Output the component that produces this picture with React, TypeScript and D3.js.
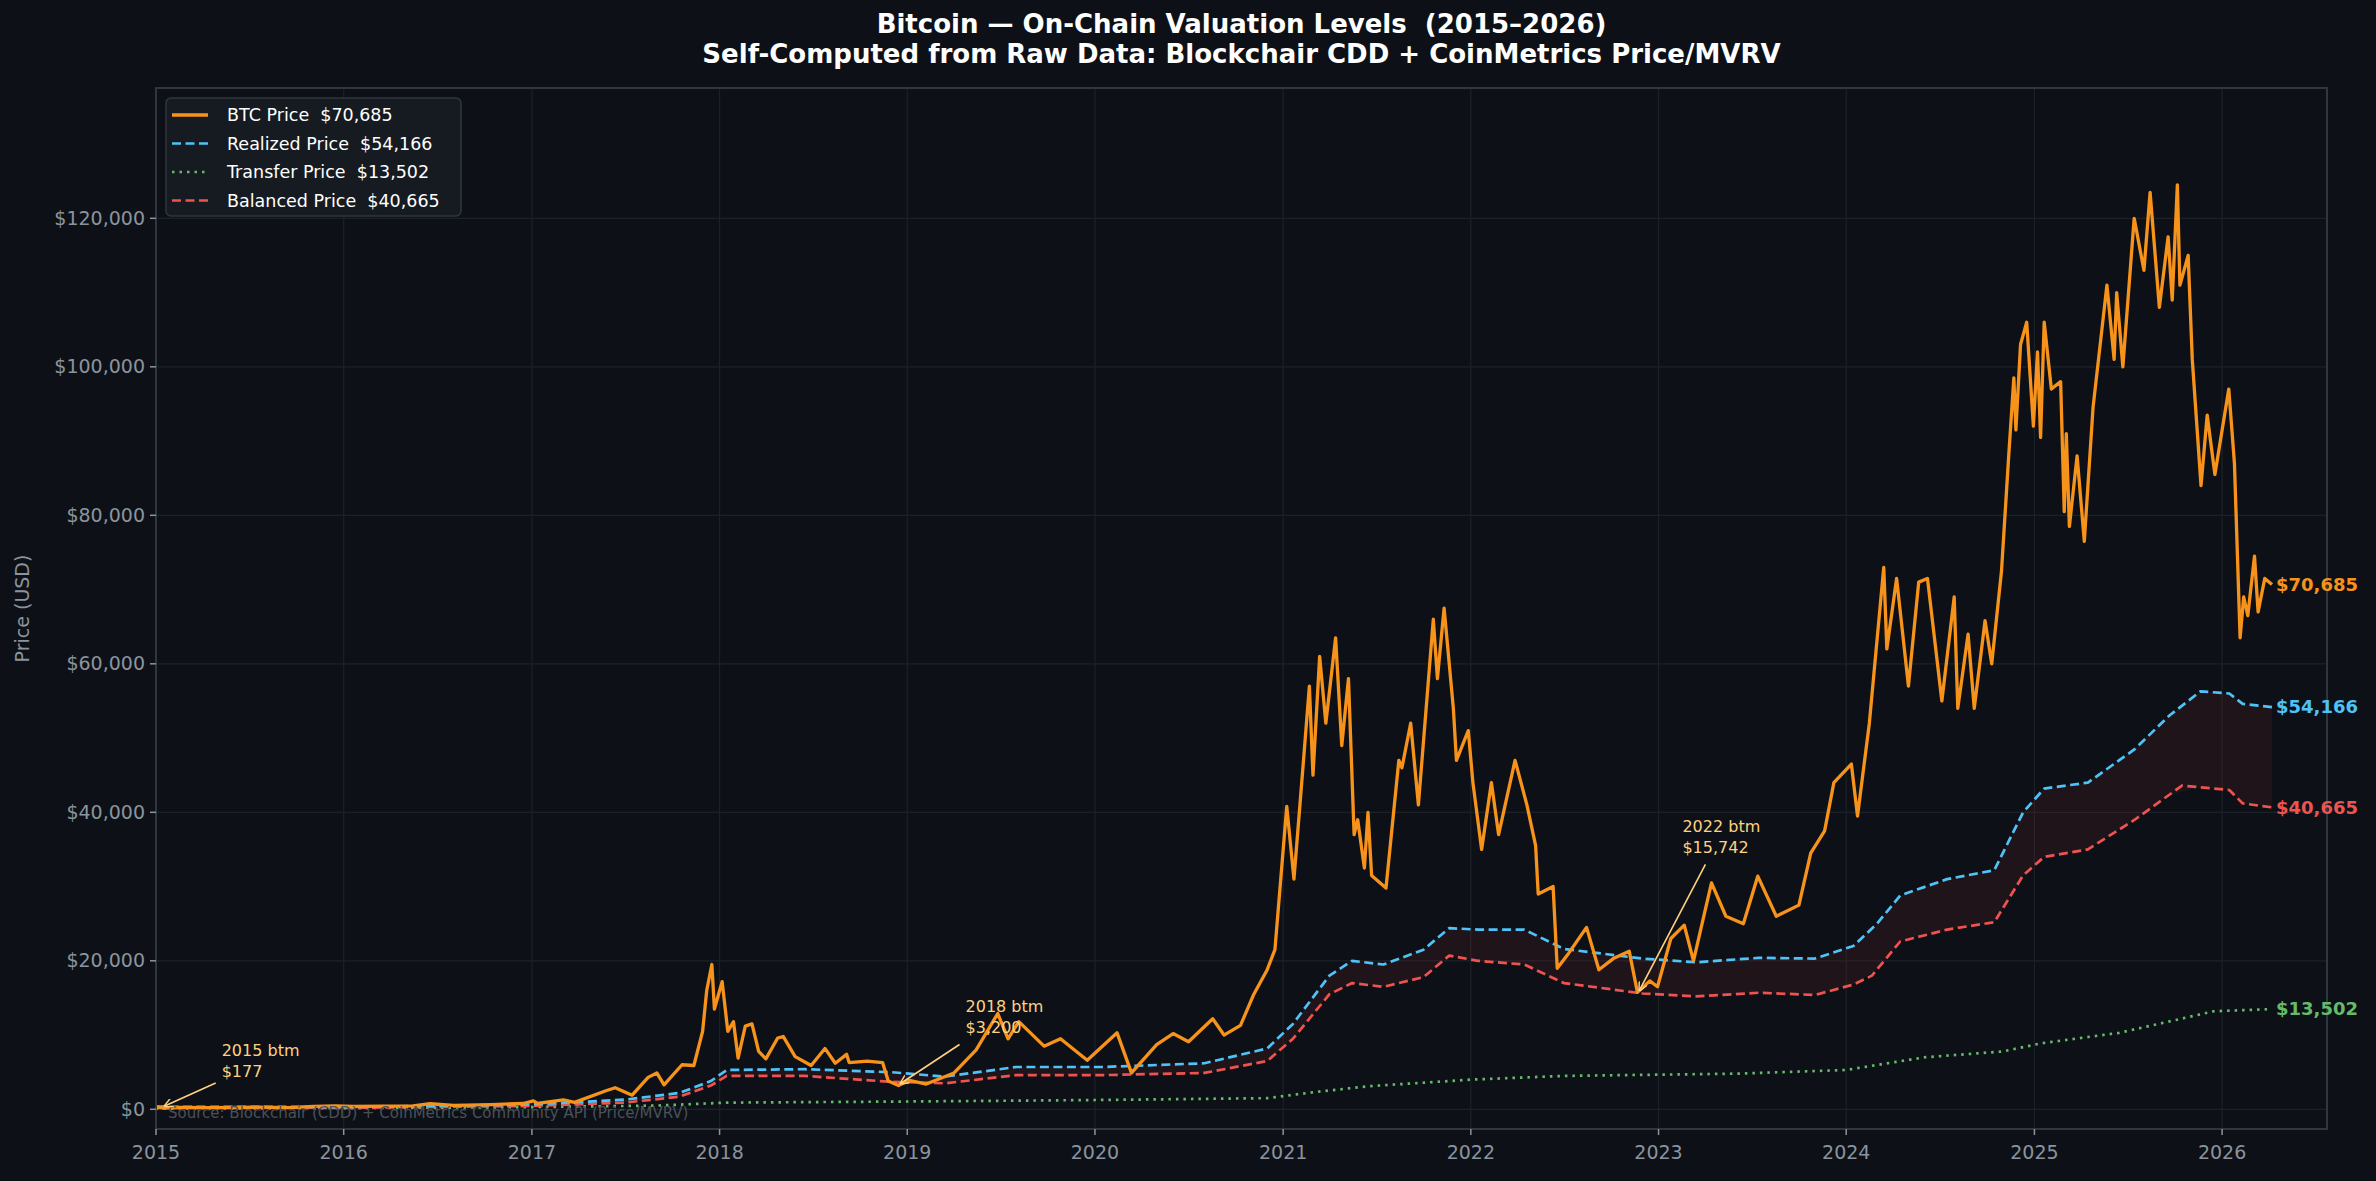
import React from 'react';
import * as d3 from 'd3';

// BTC price (approx.) — [date, USD]
const btcPrice: [string, number][] = [
  ['2015-01-01', 320], ['2015-01-14', 177], ['2015-02-15', 240], ['2015-04-15', 225], ['2015-06-15', 245],
  ['2015-07-15', 290], ['2015-09-15', 230], ['2015-11-04', 400], ['2015-12-15', 450], ['2016-01-20', 380],
  ['2016-03-15', 415], ['2016-05-15', 455], ['2016-06-17', 750], ['2016-08-02', 540], ['2016-10-15', 640],
  ['2016-12-15', 780], ['2017-01-04', 1130], ['2017-01-12', 800], ['2017-03-03', 1280], ['2017-03-25', 930],
  ['2017-05-25', 2500], ['2017-06-12', 2900], ['2017-07-15', 1900], ['2017-08-15', 4300], ['2017-09-01', 4900],
  ['2017-09-15', 3300], ['2017-10-20', 6000], ['2017-11-12', 5900], ['2017-11-29', 10500], ['2017-12-07', 16000],
  ['2017-12-17', 19500], ['2017-12-22', 13500], ['2018-01-06', 17200], ['2018-01-17', 10500], ['2018-01-28', 11800],
  ['2018-02-06', 6900], ['2018-02-20', 11200], ['2018-03-05', 11500], ['2018-03-18', 7800], ['2018-04-01', 6800],
  ['2018-04-24', 9600], ['2018-05-05', 9800], ['2018-05-28', 7100], ['2018-06-28', 5900], ['2018-07-25', 8200],
  ['2018-08-14', 6200], ['2018-09-05', 7400], ['2018-09-10', 6300], ['2018-10-15', 6500], ['2018-11-14', 6300],
  ['2018-11-25', 3800], ['2018-12-15', 3200], ['2019-01-05', 3900], ['2019-02-07', 3400], ['2019-04-02', 4900],
  ['2019-05-15', 8000], ['2019-06-26', 12900], ['2019-07-16', 9500], ['2019-08-06', 11800], ['2019-09-24', 8500],
  ['2019-10-26', 9500], ['2019-12-17', 6600], ['2020-02-13', 10300], ['2020-03-12', 4900], ['2020-04-30', 8700],
  ['2020-06-01', 10200], ['2020-07-01', 9100], ['2020-08-17', 12200], ['2020-09-08', 10000], ['2020-10-10', 11300],
  ['2020-11-05', 15500], ['2020-12-01', 18800], ['2020-12-16', 21500], ['2021-01-08', 40800], ['2021-01-22', 31000],
  ['2021-02-09', 46500], ['2021-02-21', 57000], ['2021-02-28', 45000], ['2021-03-13', 61000], ['2021-03-25', 52000],
  ['2021-04-13', 63500], ['2021-04-25', 49000], ['2021-05-08', 58000], ['2021-05-19', 37000], ['2021-05-26', 39000],
  ['2021-06-08', 32500], ['2021-06-15', 40000], ['2021-06-22', 31500], ['2021-07-20', 29800], ['2021-08-14', 47000],
  ['2021-08-20', 46000], ['2021-09-06', 52000], ['2021-09-21', 41000], ['2021-10-20', 66000], ['2021-10-28', 58000],
  ['2021-11-10', 67500], ['2021-11-28', 54000], ['2021-12-04', 47000], ['2021-12-27', 51000], ['2022-01-05', 44000],
  ['2022-01-22', 35000], ['2022-02-10', 44000], ['2022-02-24', 37000], ['2022-03-28', 47000], ['2022-04-20', 41000],
  ['2022-05-07', 35500], ['2022-05-12', 29000], ['2022-06-10', 30000], ['2022-06-18', 19000], ['2022-07-10', 21000],
  ['2022-08-14', 24500], ['2022-09-07', 18800], ['2022-10-05', 20300], ['2022-11-05', 21300], ['2022-11-21', 15742],
  ['2022-12-15', 17300], ['2022-12-30', 16500], ['2023-01-25', 23000], ['2023-02-20', 24800], ['2023-03-10', 20000],
  ['2023-04-14', 30500], ['2023-05-12', 26000], ['2023-06-15', 25000], ['2023-07-13', 31400], ['2023-08-18', 26000],
  ['2023-10-01', 27500], ['2023-10-24', 34500], ['2023-11-20', 37500], ['2023-12-08', 44000], ['2024-01-11', 46500],
  ['2024-01-23', 39500], ['2024-02-15', 52000], ['2024-03-14', 73000], ['2024-03-20', 62000], ['2024-04-08', 71500],
  ['2024-05-01', 57000], ['2024-05-21', 71000], ['2024-06-07', 71500], ['2024-07-05', 55000], ['2024-07-29', 69000],
  ['2024-08-05', 54000], ['2024-08-25', 64000], ['2024-09-06', 54000], ['2024-09-27', 65800], ['2024-10-10', 60000],
  ['2024-10-29', 72500], ['2024-11-12', 88000], ['2024-11-22', 98500], ['2024-11-26', 91500], ['2024-12-05', 103000],
  ['2024-12-17', 106000], ['2024-12-30', 92000], ['2025-01-07', 102000], ['2025-01-13', 90500], ['2025-01-20', 106000],
  ['2025-02-03', 97000], ['2025-02-21', 98000], ['2025-02-28', 80500], ['2025-03-04', 91000], ['2025-03-10', 78500],
  ['2025-03-25', 88000], ['2025-04-08', 76500], ['2025-04-25', 94500], ['2025-05-22', 111000], ['2025-06-05', 101000],
  ['2025-06-10', 110000], ['2025-06-22', 100000], ['2025-07-14', 120000], ['2025-08-02', 113000], ['2025-08-14', 123500],
  ['2025-09-01', 108000], ['2025-09-18', 117500], ['2025-09-26', 109000], ['2025-10-06', 124500], ['2025-10-11', 111000],
  ['2025-10-27', 115000], ['2025-11-04', 101000], ['2025-11-21', 84000], ['2025-12-03', 93500], ['2025-12-18', 85500],
  ['2026-01-14', 97000], ['2026-01-25', 87000], ['2026-02-05', 63500], ['2026-02-12', 69000], ['2026-02-20', 66500],
  ['2026-03-05', 74500], ['2026-03-12', 67000], ['2026-03-25', 71500], ['2026-04-08', 70685],
];

const realizedPrice: [string, number][] = [
  ['2015-01-01', 350], ['2016-01-01', 300], ['2017-01-01', 650], ['2017-07-01', 1300], ['2017-10-15', 2200],
  ['2017-12-15', 3800], ['2018-01-15', 5300], ['2018-06-15', 5400], ['2018-12-01', 5000], ['2019-03-15', 4400],
  ['2019-08-01', 5700], ['2020-01-15', 5700], ['2020-08-01', 6200], ['2020-12-01', 8200], ['2021-01-20', 11500],
  ['2021-04-01', 18000], ['2021-05-15', 20000], ['2021-07-15', 19500], ['2021-10-01', 21500], ['2021-11-20', 24400],
  ['2022-01-15', 24200], ['2022-04-15', 24200], ['2022-07-01', 21600], ['2022-12-01', 20300], ['2023-03-15', 19800],
  ['2023-07-15', 20400], ['2023-11-01', 20300], ['2024-01-15', 22000], ['2024-03-01', 25000], ['2024-04-15', 28800],
  ['2024-07-15', 31000], ['2024-10-15', 32200], ['2024-12-10', 40000], ['2025-01-20', 43200], ['2025-04-15', 44000],
  ['2025-07-15', 48500], ['2025-09-20', 53000], ['2025-11-20', 56300], ['2026-01-15', 56000], ['2026-02-10', 54600],
  ['2026-04-08', 54166],
];

const transferPrice: [string, number][] = [
  ['2015-01-01', 100], ['2016-01-01', 150], ['2017-01-01', 300], ['2017-09-01', 500], ['2018-01-15', 900],
  ['2019-01-01', 1050], ['2020-01-01', 1250], ['2020-12-01', 1500], ['2021-03-01', 2300], ['2021-06-15', 3100],
  ['2022-01-01', 4000], ['2022-07-01', 4500], ['2023-06-01', 4800], ['2024-01-01', 5300], ['2024-06-01', 7000],
  ['2024-11-01', 7800], ['2025-01-15', 8900], ['2025-06-15', 10300], ['2025-10-01', 12000], ['2025-12-15', 13200],
  ['2026-04-08', 13502],
];

const balancedPrice: [string, number][] = [
  ['2015-01-01', 250], ['2016-01-01', 200], ['2017-01-01', 450], ['2017-07-01', 900], ['2017-10-15', 1700],
  ['2017-12-15', 3200], ['2018-01-15', 4500], ['2018-06-15', 4500], ['2018-12-01', 3700], ['2019-03-15', 3500],
  ['2019-08-01', 4600], ['2020-01-15', 4600], ['2020-08-01', 4900], ['2020-12-01', 6500], ['2021-01-20', 9500],
  ['2021-04-01', 15500], ['2021-05-15', 17000], ['2021-07-15', 16500], ['2021-10-01', 17800], ['2021-11-20', 20700],
  ['2022-01-15', 20000], ['2022-04-15', 19500], ['2022-07-01', 17000], ['2022-12-01', 15600], ['2023-03-15', 15200],
  ['2023-07-15', 15700], ['2023-11-01', 15400], ['2024-01-15', 16800], ['2024-02-20', 18000], ['2024-04-15', 22600],
  ['2024-07-15', 24200], ['2024-10-15', 25200], ['2024-12-10', 31500], ['2025-01-20', 34000], ['2025-04-15', 35000],
  ['2025-07-15', 39000], ['2025-10-15', 43600], ['2026-01-15', 43000], ['2026-02-10', 41200], ['2026-04-08', 40665],
];

const yearTicks = d3.range(2015, 2027);
const priceTicks = [0, 20000, 40000, 60000, 80000, 100000, 120000];

// tx/ty: label offset from the point; ax/ay: arrow tail offset
const bottoms = [
  { label: '2015 btm', value: '$177', date: '2015-01-14', price: 177, tx: 59, ty: -52, ax: 53, ay: -25 },
  { label: '2018 btm', value: '$3,200', date: '2018-12-15', price: 3200, tx: 67, ty: -74, ax: 61, ay: -41 },
  { label: '2022 btm', value: '$15,742', date: '2022-11-21', price: 15742, tx: 45, ty: -160, ax: 68, ay: -128 },
];

const W = 2376, H = 1181;
const M = { left: 156, right: 2327, top: 88, bottom: 1129 };
const SP = '\u00a0 ';
const parse = d3.timeParse('%Y-%m-%d');
const fmt = (v: number) => '$' + d3.format(',')(v);

export default function App() {
  const x = d3.scaleTime()
    .domain([new Date(2015, 0, 1), new Date(2026, 6, 24)])
    .range([M.left, M.right]);
  const y = d3.scaleLinear().domain([-2653, 137551]).range([M.bottom, M.top]);
  const line = d3.line<[string, number]>().x(d => x(parse(d[0])!)).y(d => y(d[1]));

  // band between realized and balanced
  const bal = balancedPrice.map(d => [+parse(d[0])!, d[1]] as [number, number]);
  const balAt = (t: number) => {
    const i = d3.bisector((d: [number, number]) => d[0]).left(bal, t);
    if (i <= 0) return bal[0][1];
    if (i >= bal.length) return bal[bal.length - 1][1];
    const a = bal[i - 1], b = bal[i];
    return a[1] + (b[1] - a[1]) * (t - a[0]) / (b[0] - a[0]);
  };
  const area = d3.area<[string, number]>()
    .x(d => x(parse(d[0])!))
    .y0(d => y(balAt(+parse(d[0])!)))
    .y1(d => y(d[1]));

  const series = [
    { name: 'BTC Price', data: btcPrice, color: '#f7931a', dash: '', w: 3.3 },
    { name: 'Realized Price', data: realizedPrice, color: '#4fc3f7', dash: '9,4.5', w: 2.7 },
    { name: 'Transfer Price', data: transferPrice, color: '#66bb6a', dash: '2.5,5', w: 2.7 },
    { name: 'Balanced Price', data: balancedPrice, color: '#ef5350', dash: '9,4.5', w: 2.7 },
  ];
  const draw = [series[2], series[3], series[1], series[0]];
  const font = 'DejaVu Sans, sans-serif';

  return (
    <svg width={W} height={H} style={{ display: 'block', position: 'absolute', left: 0, top: 0 }}
      fontFamily={font}>
      <defs>
        <marker id="arr" viewBox="0 0 10 10" refX={9} refY={5} markerWidth={9} markerHeight={9}
          orient="auto" markerUnits="userSpaceOnUse">
          <path d="M0,0 L10,5 L0,10" fill="none" stroke="#ffd180" strokeWidth={1.6} />
        </marker>
      </defs>
      <rect width={W} height={H} fill="#0d1117" />
      <text x={(M.left + M.right) / 2} y={33} textAnchor="middle" fill="#ffffff" fontSize={26} fontWeight="bold">
        {`Bitcoin — On-Chain Valuation Levels${SP}(2015–2026)`}
      </text>
      <text x={(M.left + M.right) / 2} y={63} textAnchor="middle" fill="#ffffff" fontSize={26} fontWeight="bold">
        Self-Computed from Raw Data: Blockchair CDD + CoinMetrics Price/MVRV
      </text>
      {yearTicks.map(t => (
        <line key={'gx' + t} x1={x(new Date(t, 0, 1))} x2={x(new Date(t, 0, 1))} y1={M.top} y2={M.bottom}
          stroke="#1c2128" strokeWidth={1.2} />
      ))}
      {priceTicks.map(t => (
        <line key={'gy' + t} x1={M.left} x2={M.right} y1={y(t)} y2={y(t)} stroke="#1c2128" strokeWidth={1.2} />
      ))}
      <path d={area(realizedPrice)!} fill="#c0303c" fillOpacity={0.1} />
      {draw.map(s => (
        <path key={s.name} d={line(s.data)!} fill="none" stroke={s.color} strokeWidth={s.w}
          strokeDasharray={s.dash} strokeLinejoin="round" />
      ))}
      <rect x={M.left} y={M.top} width={M.right - M.left} height={M.bottom - M.top} fill="none"
        stroke="#30363d" strokeWidth={2} />
      {yearTicks.map(t => (
        <g key={'tx' + t} transform={`translate(${x(new Date(t, 0, 1))},${M.bottom})`}>
          <line y2={6} stroke="#8b949e" strokeWidth={1.5} />
          <text y={30} textAnchor="middle" fill="#8b949e" fontSize={19}>{t}</text>
        </g>
      ))}
      {priceTicks.map(t => (
        <g key={'ty' + t} transform={`translate(${M.left},${y(t)})`}>
          <line x2={-6} stroke="#8b949e" strokeWidth={1.5} />
          <text x={-11} dy="0.35em" textAnchor="end" fill="#8b949e" fontSize={19}>{fmt(t)}</text>
        </g>
      ))}
      <text transform={`translate(29,${(M.top + M.bottom) / 2}) rotate(-90)`} textAnchor="middle"
        fill="#8b949e" fontSize={19}>Price (USD)</text>
      <text x={168} y={1118} fill="#4a5058" fontSize={15}>
        Source: Blockchair (CDD) + CoinMetrics Community API (Price/MVRV)
      </text>
      {bottoms.map(b => {
        const px = x(parse(b.date)!), py = y(b.price);
        return (
          <g key={b.label}>
            <line x1={px + b.ax} y1={py + b.ay} x2={px + 2} y2={py - 2}
              stroke="#ffd180" strokeWidth={1.6} markerEnd="url(#arr)" />
            <text x={px + b.tx} y={py + b.ty} fill="#ffd180" fontSize={16}>{b.label}</text>
            <text x={px + b.tx} y={py + b.ty + 21} fill="#ffd180" fontSize={16}>{b.value}</text>
          </g>
        );
      })}
      {series.map(s => {
        const last = s.data[s.data.length - 1];
        return (
          <text key={'e' + s.name} x={2276} y={y(last[1])} dy="0.35em" fill={s.color} fontSize={18}
            fontWeight="bold">{fmt(last[1])}</text>
        );
      })}
      <g transform="translate(166,98)">
        <rect width={295} height={118} rx={5} fill="#161b22" stroke="#30363d" strokeWidth={1.5} />
        {series.map((s, i) => (
          <g key={'l' + s.name} transform={`translate(0,${17 + i * 28.5})`}>
            <line x1={6} x2={42} stroke={s.color} strokeWidth={s.w} strokeDasharray={s.dash} />
            <text x={61} dy="0.35em" fill="#ffffff" fontSize={17.5}>{`${s.name}${SP}${fmt(s.data[s.data.length - 1][1])}`}</text>
          </g>
        ))}
      </g>
    </svg>
  );
}
